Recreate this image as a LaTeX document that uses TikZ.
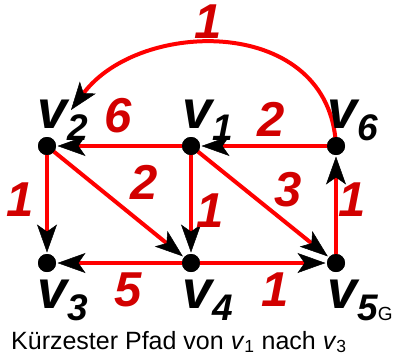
\documentclass[tikz,border=0pt]{standalone}
\usepackage{fontspec}
\setmainfont{Liberation Sans}
\usetikzlibrary{arrows.meta}
\definecolor{lred}{RGB}{210,0,0}
\definecolor{ered}{RGB}{255,0,0}
\newcommand{\vsub}[1]{{\fontsize{54}{54}\selectfont v}\raisebox{-12pt}{\fontsize{37}{37}\selectfont #1}}
\begin{document}
\begin{tikzpicture}[x=1pt,y=-1pt,
  dot/.style={circle,fill=black,minimum size=18pt,inner sep=0pt,outer sep=0pt},
  edge/.style={draw=ered,line width=4pt,shorten >=1.5pt,
    -{Stealth[black,length=28pt,width=20pt,inset=7pt,line width=0.5pt]}},
  elab/.style={text=lred,font=\fontsize{49}{49}\selectfont\bfseries\itshape,inner sep=0pt},
  vlab/.style={font=\bfseries\itshape,inner sep=0pt,anchor=base west}]
\useasboundingbox (0,0) rectangle (394,357);
\node[dot] (v2) at (47,146) {};
\node[dot] (v1) at (191,146) {};
\node[dot] (v6) at (336,146) {};
\node[dot] (v3) at (47,263) {};
\node[dot] (v4) at (191,263) {};
\node[dot] (v5) at (336,263) {};
\coordinate (c2) at (71,110);
% edges
\draw[edge,shorten >=0pt] (v6.center) .. controls (330,15) and (140,18) .. (c2);
\draw[edge] (v1.center) -- (v2);
\draw[edge] (v6.center) -- (v1);
\draw[edge] (v2.center) -- (v3);
\draw[edge] (v2.center) -- (v4);
\draw[edge] (v1.center) -- (v4);
\draw[edge] (v1.center) -- (v5);
\draw[edge] (v5.center) -- (v6);
\draw[edge] (v4.center) -- (v3);
\draw[edge] (v4.center) -- (v5);
% redraw dots on top
\foreach \n in {v1,v2,v3,v4,v5,v6} \fill (\n) circle (9pt);
% edge labels
\node[elab] (l62) at (208,22) {1};
\node[elab] (l12) at (118,116) {6};
\node[elab] (l61) at (271,119) {2};
\node[elab] (l24) at (144,182) {2};
\node[elab] (l15) at (288,190) {3};
\node[elab] (l23) at (20,200) {1};
\node[elab] (l14) at (210,211) {1};
\node[elab] (l56) at (352,200) {1};
\node[elab] (l43) at (128,290) {5};
\node[elab] (l45) at (275,290) {1};
% vertex labels
\node[vlab] (t2) at (37,128) {\vsub{2}};
\node[vlab] (t1) at (182,128) {\vsub{1}};
\node[vlab] (t6) at (327,128) {\vsub{6}};
\node[vlab] (t3) at (37,308) {\vsub{3}};
\node[vlab] (t4) at (182,308) {\vsub{4}};
\node[vlab] (t5) at (327,308) {\vsub{5}\raisebox{-12pt}{\fontsize{19}{19}\selectfont\normalfont G}};
% caption
\node[inner sep=0pt,anchor=base west,font=\fontsize{25}{25}\selectfont] (cap) at (11,349)
  {Kürzester Pfad von \textit{v}\textsubscript{1} nach \textit{v}\textsubscript{3}};
\end{tikzpicture}
\end{document}
